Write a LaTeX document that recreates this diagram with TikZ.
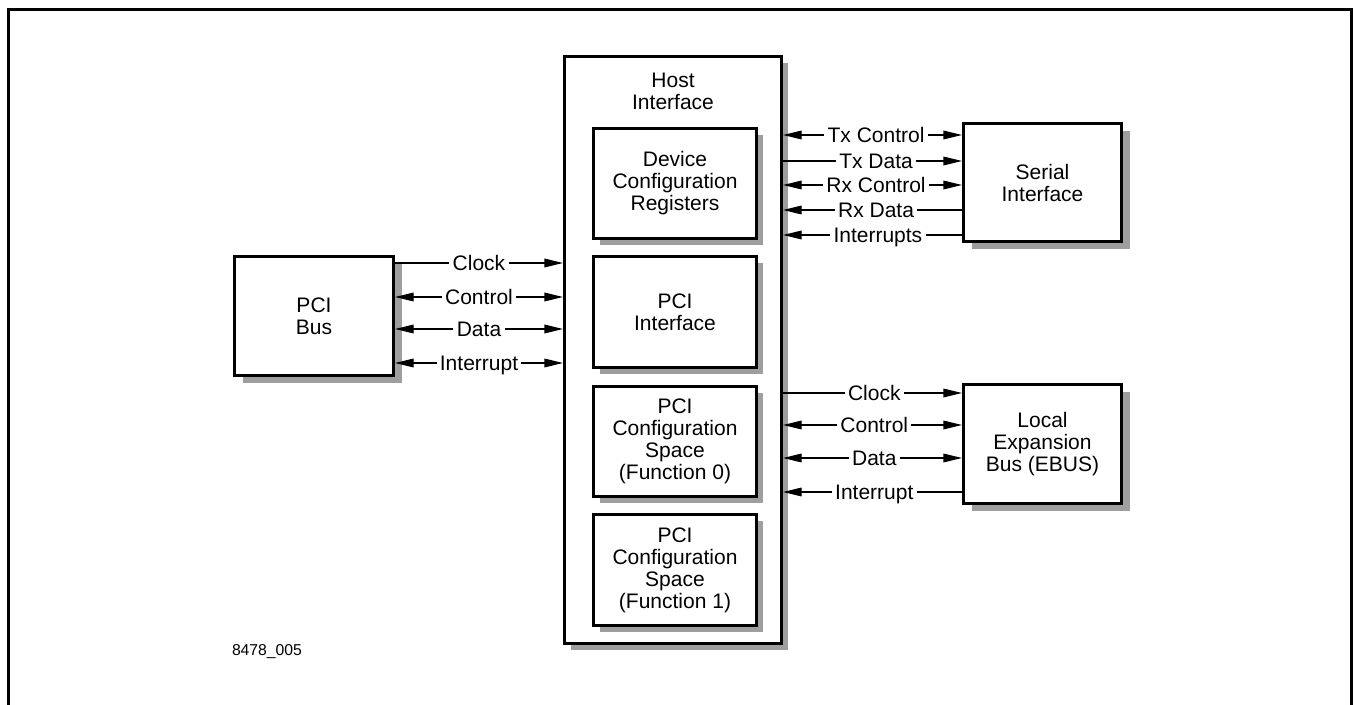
\documentclass[tikz,border=0pt]{standalone}
\usepackage{fontspec}
\setmainfont{Liberation Sans}
\usetikzlibrary{arrows.meta,shadows}
\begin{document}
\begin{tikzpicture}[x=0.75pt,y=-0.75pt,
  Tri/.tip={Triangle[length=14pt,width=6.5pt]},
  box/.style={draw, line width=2.25pt, fill=white, align=center,
    font=\fontsize{15.75}{16.5}\selectfont, inner sep=0pt},
  shbig/.style={drop shadow={shadow xshift=6pt, shadow yshift=-6pt, fill=black!38, opacity=1}},
  shsmall/.style={drop shadow={shadow xshift=4.8pt, shadow yshift=-4.8pt, fill=black!38, opacity=1}},
  sig/.style={line width=1pt},
  lab/.style={fill=white, inner xsep=2.5pt, inner ysep=0.6pt, text height=11.3pt, text depth=0pt,
    font=\fontsize{15.75}{16.5}\selectfont},
  title/.style={align=center, font=\fontsize{15.75}{16.5}\selectfont, inner sep=0pt}
]
\useasboundingbox (0,0) rectangle (1354,705);
\fill[white] (0,0) rectangle (1354,705);
% frame
\draw[line width=2.25pt] (8,705) -- (8,9.5) -- (1351.5,9.5) -- (1351.5,705);

% boxes
\node[box, shbig, minimum width=119.25pt, minimum height=89.25pt] (pci) at (314,316) {PCI\\Bus};
\node[box, shsmall, minimum width=162.75pt, minimum height=440.25pt] (host) at (673,350) {};
\node[title] (hosttitle) at (673,91) {Host\\Interface};
\node[box, shsmall, minimum width=122.25pt, minimum height=82.5pt] (dev) at (675,183.5) {Device\\Configuration\\Registers};
\node[box, shsmall, minimum width=122.25pt, minimum height=83.25pt] (pcii) at (675,312) {PCI\\Interface};
\node[box, shsmall, minimum width=122.25pt, minimum height=82.5pt] (f0) at (675,441.5) {PCI\\Configuration\\Space\\(Function 0)};
\node[box, shsmall, minimum width=122.25pt, minimum height=83.25pt] (f1) at (675,570) {PCI\\Configuration\\Space\\(Function 1)};
\node[box, shbig, minimum width=118.5pt, minimum height=88.5pt] (ser) at (1042.5,182.5) {Serial\\Interface};
\node[box, shbig, minimum width=118.5pt, minimum height=89.25pt] (ebus) at (1042.5,444) {Local\\Expansion\\Bus (EBUS)};

% PCI bus signals
\draw[sig, -Tri] (pci.east |- 0,263) -- node[lab] {Clock} (host.west |- 0,263);
\draw[sig, Tri-Tri] (pci.east |- 0,297) -- node[lab] {Control} (host.west |- 0,297);
\draw[sig, Tri-Tri] (pci.east |- 0,329) -- node[lab] {Data} (host.west |- 0,329);
\draw[sig, Tri-Tri] (pci.east |- 0,363) -- node[lab] {Interrupt} (host.west |- 0,363);

% serial signals
\draw[sig, Tri-Tri] (host.east |- 0,135) -- node[lab, pos=0.52] {Tx Control} (ser.west |- 0,135);
\draw[sig, -Tri] (host.east |- 0,161) -- node[lab, pos=0.52] {Tx Data} (ser.west |- 0,161);
\draw[sig, Tri-Tri] (host.east |- 0,185) -- node[lab, pos=0.52] {Rx Control} (ser.west |- 0,185);
\draw[sig, Tri-] (host.east |- 0,210) -- node[lab, pos=0.52] {Rx Data} (ser.west |- 0,210);
\draw[sig, Tri-] (host.east |- 0,235) -- node[lab, pos=0.53] {Interrupts} (ser.west |- 0,235);

% ebus signals
\draw[sig, -Tri] (host.east |- 0,393) -- node[lab, pos=0.51] {Clock} (ebus.west |- 0,393);
\draw[sig, Tri-Tri] (host.east |- 0,425) -- node[lab, pos=0.51] {Control} (ebus.west |- 0,425);
\draw[sig, Tri-Tri] (host.east |- 0,458) -- node[lab, pos=0.51] {Data} (ebus.west |- 0,458);
\draw[sig, Tri-] (host.east |- 0,492) -- node[lab, pos=0.51] {Interrupt} (ebus.west |- 0,492);

\node[font=\fontsize{11.8}{13}\selectfont, inner sep=0pt] (code) at (267,652) {8478\_005};
\end{tikzpicture}
\end{document}
